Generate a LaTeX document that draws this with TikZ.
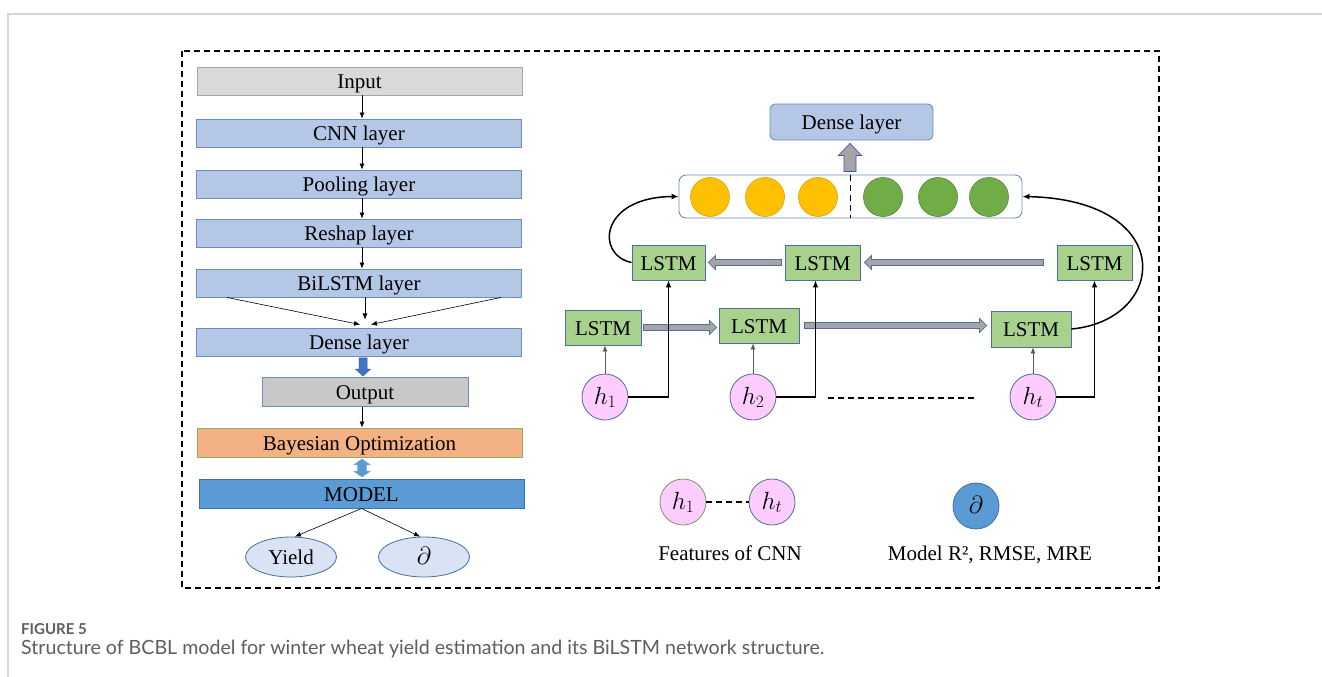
\documentclass[tikz,border=0pt]{standalone}
\usepackage{fontspec}
\setmainfont{Liberation Serif}
\newfontfamily\capfont{Lato}
\usetikzlibrary{shapes.geometric,arrows.meta,calc}
\definecolor{lblue}{HTML}{B4C7E7}
\definecolor{lblueb}{HTML}{6C8EBF}
\definecolor{inpgray}{HTML}{D9D9D9}
\definecolor{outgray}{HTML}{C8C8C8}
\definecolor{bayfill}{HTML}{F4B183}
\definecolor{bayb}{HTML}{8FAE5F}
\definecolor{mblue}{HTML}{5B9BD5}
\definecolor{mblueb}{HTML}{41719C}
\definecolor{ellfill}{HTML}{DAE3F3}
\definecolor{lstmfill}{HTML}{A9D18E}
\definecolor{lstmb}{HTML}{4F6F9B}
\definecolor{pink}{HTML}{FFCCFF}
\definecolor{yel}{HTML}{FFC000}
\definecolor{yelb}{HTML}{D9A400}
\definecolor{grn}{HTML}{70AD47}
\definecolor{grnb}{HTML}{548235}
\definecolor{agray}{HTML}{A5A5A5}
\definecolor{dblue}{HTML}{4472C4}
\definecolor{capgray}{HTML}{5E5E5E}
\definecolor{framegray}{HTML}{D6D6D6}
% #1 style, #2 tail, #3 tip, #4 shaft half width, #5 head half width, #6 head length
\newcommand\blockarr[6]{%
  \coordinate (bah) at ($(#3)!#6!(#2)$);
  \path[#1] ($(#2)!#4!90:(#3)$) -- ($(bah)!#4!-90:(#2)$) -- ($(bah)!#5!-90:(#2)$) -- (#3)
    -- ($(bah)!#5!90:(#2)$) -- ($(bah)!#4!90:(#2)$) -- ($(#2)!#4!-90:(#3)$) -- cycle;}
\newcommand\dblarr[6]{%
  \coordinate (bah) at ($(#3)!#6!(#2)$);
  \coordinate (bat) at ($(#2)!#6!(#3)$);
  \path[#1] (#2) -- ($(bat)!#5!90:(#3)$) -- ($(bat)!#4!90:(#3)$) -- ($(bah)!#4!-90:(#2)$)
    -- ($(bah)!#5!-90:(#2)$) -- (#3) -- ($(bah)!#5!90:(#2)$) -- ($(bah)!#4!90:(#2)$)
    -- ($(bat)!#4!-90:(#3)$) -- ($(bat)!#5!-90:(#3)$) -- cycle;}
\begin{document}
\begin{tikzpicture}[x=1pt,y=-1pt,
  txt/.style={font=\fontsize{21}{24}\selectfont, inner sep=0pt, text height=19pt, text depth=4pt},
  mtxt/.style={font=\fontsize{25}{28}\selectfont, inner sep=0pt, text height=19pt, text depth=5pt},
  lbox/.style={txt, draw=lblueb, fill=lblue, line width=0.9pt, minimum width=325pt, minimum height=28pt},
  lstm/.style={txt, draw=lstmb, fill=lstmfill, line width=0.9pt, minimum height=35pt},
  hcirc/.style={mtxt, circle, draw=lstmb, fill=pink, line width=0.8pt, minimum size=46pt},
  ycirc/.style={circle, draw=yelb, fill=yel, line width=0.6pt, minimum size=39pt, inner sep=0pt},
  gcirc/.style={circle, draw=grnb, fill=grn, line width=0.6pt, minimum size=39pt, inner sep=0pt},
  ell/.style={txt, ellipse, draw=mblueb, fill=ellfill, line width=0.8pt, minimum width=91pt, minimum height=40pt},
  thinarr/.style={-{Latex[length=6pt,width=5pt]}, line width=0.6pt, black},
  blkarr/.style={-{Latex[length=7pt,width=6pt]}, line width=1.5pt, black},
  grayarr/.style={-{Latex[length=6pt,width=5pt]}, line width=0.8pt, gray!70!black},
  harr/.style={draw=lstmb, fill=agray, line width=0.7pt},
  dashline/.style={line width=1.6pt, dash pattern=on 6pt off 4pt}
]
\useasboundingbox (0,0) rectangle (1322,677);
\fill[white] (0,0) rectangle (1322,677);
% page frame
\draw[framegray, line width=1.2pt] (1322,14) -- (8,14) -- (8,677);
% dashed outer box
\draw[line width=1.8pt, dash pattern=on 6pt off 4pt] (182,51) rectangle (1159,588);

% ---------- left column ----------
\node[lbox, draw=gray!70, fill=inpgray] (inp) at (359.5,81) {Input};
\node[lbox] (cnn) at (359,133) {CNN layer};
\node[lbox] (pool) at (359,184) {Pooling layer};
\node[lbox] (resh) at (359,233) {Reshap layer};
\node[lbox] (bil) at (359,283) {BiLSTM layer};
\node[lbox] (dense) at (359,342) {Dense layer};
\node[lbox, fill=outgray, minimum width=206pt, minimum height=29pt] (out) at (365,392) {Output};
\node[lbox, draw=bayb, fill=bayfill, minimum height=29pt] (bay) at (359.5,442.5) {Bayesian Optimization};
\node[lbox, draw=mblueb, fill=mblue, minimum height=29pt] (model) at (361.5,493.5) {MODEL};
\node[ell] (yield) at (291,557) {Yield};
\node[ell, mtxt] (part) at (424,557) {$\partial$};

\draw[thinarr] ($(inp.south)+(2.5,0)$) -- ($(cnn.north)+(3,0)$);
\draw[thinarr] ($(cnn.south)+(3,0)$) -- ($(pool.north)+(3,0)$);
\draw[thinarr] ($(pool.south)+(3,0)$) -- ($(resh.north)+(3,0)$);
\draw[thinarr] ($(resh.south)+(3,0)$) -- ($(bil.north)+(3,0)$);
\coordinate (bl) at ($(bil.south west)+(31,0)$);
\coordinate (br) at ($(bil.south east)+(-21,0)$);
\draw[thinarr] (bl) -- ($(dense.north)+(1,-3)$);
\draw[thinarr] (br) -- ($(dense.north)+(12,-3)$);
\draw[thinarr] ($(bil.south)+(6,0)$) -- ($(bil.south)+(6,22)$);
\coordinate (d1) at ($(dense.south -| 363,0)+(0,1.5)$);
\coordinate (d2) at ($(out.north -| 363,0)+(0,-1)$);
\blockarr{draw=dblue!80!black, fill=dblue, line width=0.5pt}{d1}{d2}{4pt}{7.5pt}{7pt}
\draw[thinarr] ($(out.south)+(-3,0)$) -- ($(bay.north)+(2.5,0)$);
\coordinate (m1) at ($(bay.south -| 362,0)+(0,1.5)$);
\coordinate (m2) at ($(model.north -| 362,0)+(0,-1.5)$);
\dblarr{draw=mblueb!60, fill=mblue, line width=0.5pt}{m1}{m2}{4.5pt}{8.5pt}{6pt}
\draw[thinarr] (model.south) -- ($(yield.north)+(4,0)$);
\draw[thinarr] (model.south) -- ($(part.north)+(-4,0)$);

% ---------- right: BiLSTM ----------
\node[txt, draw=lblueb, fill=lblue, line width=0.9pt, rounded corners=5pt, minimum width=163pt, minimum height=36pt] (dl) at (851.5,122) {Dense layer};
\node[draw=lblueb, line width=0.9pt, rounded corners=7pt, minimum width=343pt, minimum height=43pt, inner sep=0pt] (bar) at (850.5,196.5) {};
\coordinate (u1) at ($(bar.north -| 850,0)+(0,-3)$);
\coordinate (u2) at ($(dl.south -| 850,0)+(0,3)$);
\blockarr{draw=gray!60!blue, fill=agray, line width=0.7pt}{u1}{u2}{6pt}{11.5pt}{12pt}
\node[ycirc] (y1) at (710,197) {};
\node[ycirc] (y2) at (765,197) {};
\node[ycirc] (y3) at (818,197) {};
\node[gcirc] (g1) at (883,197) {};
\node[gcirc] (g2) at (938,197) {};
\node[gcirc] (g3) at (989,197) {};
\draw[dashline] (bar.north) -- (bar.south);

\node[lstm, minimum width=73pt] (b1) at (668.5,262.5) {LSTM};
\node[lstm, minimum width=75pt] (b2) at (822.5,262.5) {LSTM};
\node[lstm, minimum width=75pt] (b3) at (1094.5,262.5) {LSTM};
\node[lstm, minimum width=76pt] (f1) at (603,327.5) {LSTM};
\node[lstm, minimum width=80pt] (f2) at (759,325.5) {LSTM};
\node[lstm, minimum width=80pt, minimum height=36pt] (f3) at (1031,329) {LSTM};

\node[hcirc] (h1) at (605,397) {$h_1$};
\node[hcirc] (h2) at (753,397) {$h_2$};
\node[hcirc] (ht) at (1033,397) {$h_t$};

% horizontal block arrows
\coordinate (a12s) at ($(f1.east)+(2,0)$);
\coordinate (a12e) at ($(f1.east -| f2.west)+(-2,0)$);
\blockarr{harr}{a12s}{a12e}{3pt}{7pt}{7pt}
\coordinate (a23s) at ($(f2.east)+(5,0)$);
\coordinate (a23e) at ($(f2.east -| f3.west)+(-4,0)$);
\blockarr{harr}{a23s}{a23e}{3pt}{7pt}{7pt}
\coordinate (a21s) at ($(b2.west)+(-3,0)$);
\coordinate (a21e) at ($(b1.east)+(3,0)$);
\blockarr{harr}{a21s}{a21e}{3pt}{7pt}{7pt}
\coordinate (a32s) at ($(b3.west)+(-13,0)$);
\coordinate (a32e) at ($(b2.east)+(4,0)$);
\blockarr{harr}{a32s}{a32e}{3pt}{7pt}{7pt}

% inputs
\draw[grayarr] (h1.north) -- (h1.north |- f1.south);
\draw[grayarr] (h2.north) -- (h2.north |- f2.south);
\draw[grayarr] (ht.north) -- (ht.north |- f3.south);
\draw[blkarr] (h1.east) -| (b1.south);
\draw[blkarr] (h2.east) -| ($(b2.south)+(-7,0)$);
\draw[blkarr] (ht.east) -| (b3.south);

% dashed between h2 and ht
\coordinate (dl1) at (828,398);
\coordinate (dl2) at (975,398);
\draw[dashline] (dl1) -- (dl2);

% curved outputs
\draw[blkarr] (b1.west) .. controls (595,255) and (600,197) .. (bar.west);
\draw[blkarr] (f3.east) .. controls (1168,320) and (1178,200) .. (bar.east);

% ---------- legend ----------
\node[hcirc, draw=grnb!80] (lh1) at (683,502) {$h_1$};
\node[hcirc] (lht) at (772,502) {$h_t$};
\draw[dashline] (lh1.east) -- (lht.west);
\node[txt] (lfeat) at (730,553) {Features of CNN};
\node[mtxt, circle, draw=mblueb, fill=mblue, line width=0.8pt, minimum size=46pt] (ld) at (976,506) {$\partial$};
\node[txt] (lmod) at (990,553) {Model R², RMSE, MRE};

% ---------- caption ----------
\node[anchor=base west, inner sep=0pt, text=capgray, font=\capfont\bfseries\fontsize{15}{18}\selectfont] (fig) at (21,634) {FIGURE 5};
\node[anchor=base west, inner sep=0pt, text=capgray, font=\capfont\fontsize{19.6}{22}\selectfont] (cap) at (21,654) {Structure of BCBL model for winter wheat yield estimation and its BiLSTM network structure.};
\end{tikzpicture}
\end{document}
